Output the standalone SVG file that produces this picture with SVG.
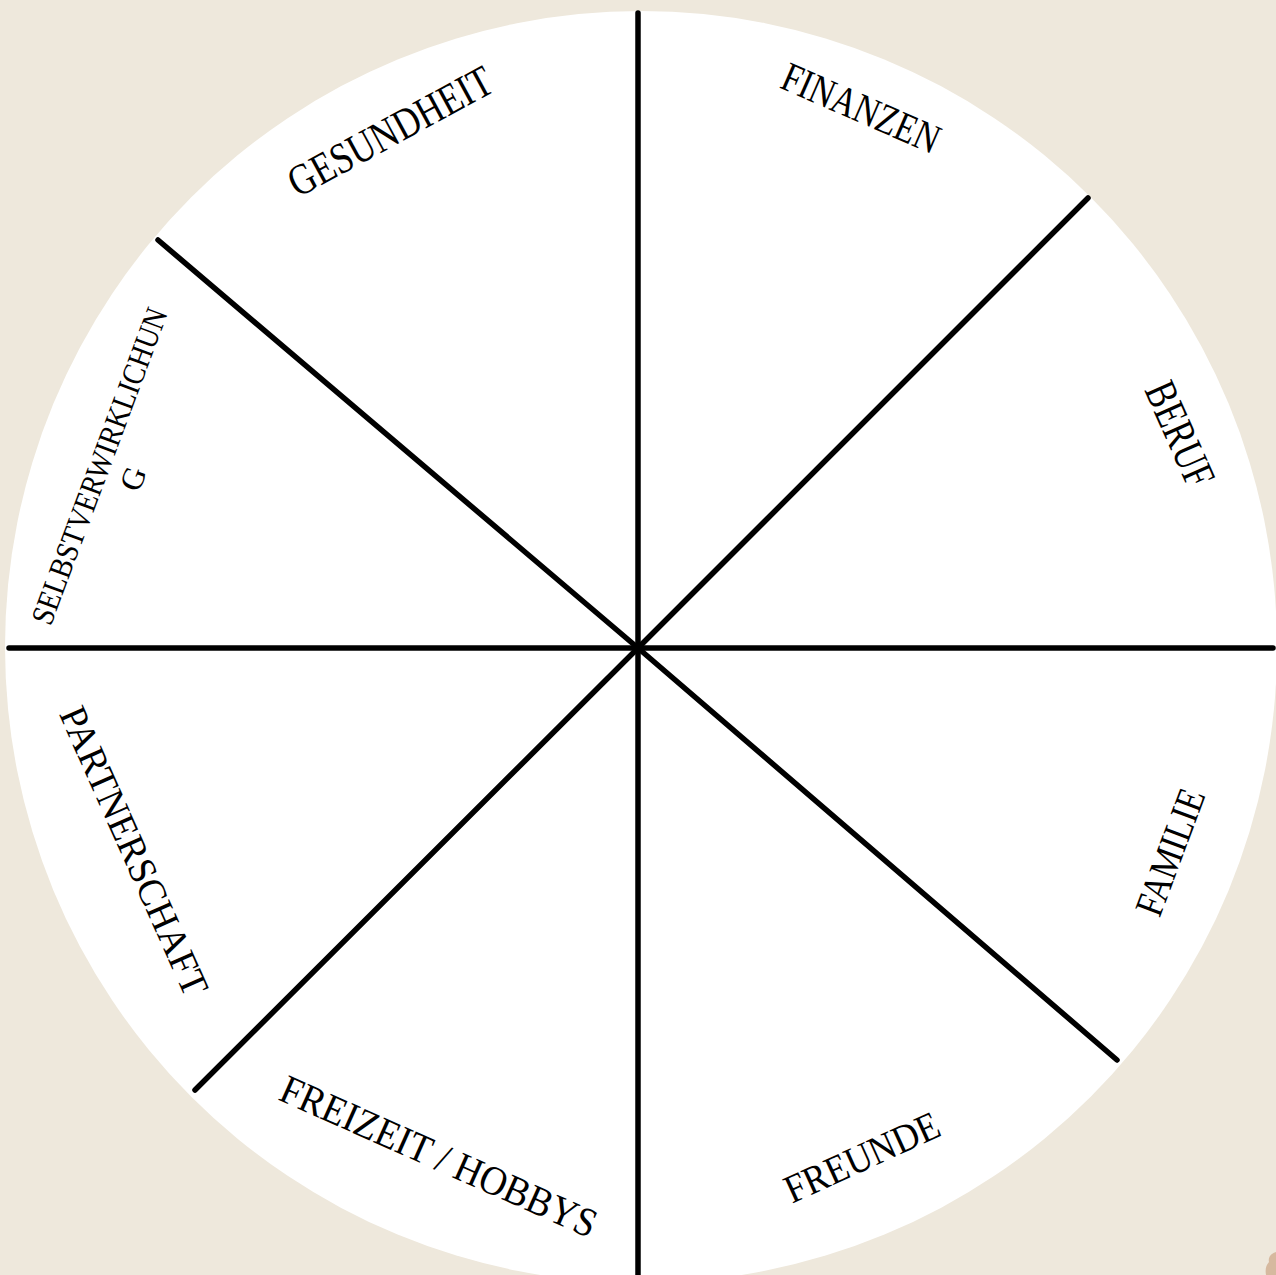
<svg xmlns="http://www.w3.org/2000/svg" width="1276" height="1275" viewBox="0 0 1276 1275">
<style>
.bg{fill:#eee8dc}
.wheel{fill:#ffffff}
.spoke{stroke:#000;stroke-width:5.5;stroke-linecap:round;fill:none}
.lbl{font-family:"Liberation Serif","DejaVu Serif",serif;fill:#000;text-anchor:middle;letter-spacing:0}
</style>
<rect class="bg" x="0" y="0" width="1276" height="1275"/>
<circle class="wheel" cx="641" cy="647" r="636"/>
<path d="M1276 1252 C1270 1254 1268 1258 1269 1262 C1266 1265 1265 1270 1266 1275 L1276 1275 Z" fill="#d6b99f"/>
<g id="connectors">
<line class="spoke" x1="638" y1="13" x2="638" y2="1276"/>
<line class="spoke" x1="9" y1="648" x2="1273" y2="648"/>
<line class="spoke" x1="158" y1="240" x2="638" y2="648"/>
<line class="spoke" x1="638" y1="648" x2="1088" y2="198"/>
<line class="spoke" x1="195" y1="1090" x2="638" y2="648"/>
<line class="spoke" x1="638" y1="648" x2="1117" y2="1060"/>
</g>
<g id="gesundheit" transform="translate(390,131) rotate(-28.5)">
<text class="lbl" x="0" y="15" font-size="44" textLength="226" lengthAdjust="spacingAndGlyphs">GESUNDHEIT</text>
</g>
<g id="finanzen" transform="translate(861,108) rotate(23.5)">
<text class="lbl" x="0" y="14" font-size="42" textLength="168" lengthAdjust="spacingAndGlyphs">FINANZEN</text>
</g>
<g id="beruf" transform="translate(1180,434) rotate(66)">
<text class="lbl" x="0" y="15" font-size="45" textLength="110" lengthAdjust="spacingAndGlyphs">BERUF</text>
</g>
<g id="familie" transform="translate(1170,852) rotate(-69.5)">
<text class="lbl" x="0" y="13.5" font-size="40" textLength="132" lengthAdjust="spacingAndGlyphs">FAMILIE</text>
</g>
<g id="freunde" transform="translate(862,1157) rotate(-24.5)">
<text class="lbl" x="0" y="13.5" font-size="40" textLength="166" lengthAdjust="spacingAndGlyphs">FREUNDE</text>
</g>
<g id="freizeit-hobbys" transform="translate(439,1156) rotate(24)">
<text class="lbl" x="0" y="14" font-size="41" textLength="342" lengthAdjust="spacingAndGlyphs">FREIZEIT / HOBBYS</text>
</g>
<g id="partnerschaft" transform="translate(134,851) rotate(66)">
<text class="lbl" x="0" y="13" font-size="39" textLength="312" lengthAdjust="spacingAndGlyphs">PARTNERSCHAFT</text>
</g>
<g id="selbstverwirklichung" transform="translate(99,466) rotate(-69.5)">
<text class="lbl" x="0" y="11" font-size="32" textLength="335" lengthAdjust="spacingAndGlyphs">SELBSTVERWIRKLICHUN</text>
<text class="lbl" x="0" y="47" font-size="32">G</text>
</g>
</svg>
